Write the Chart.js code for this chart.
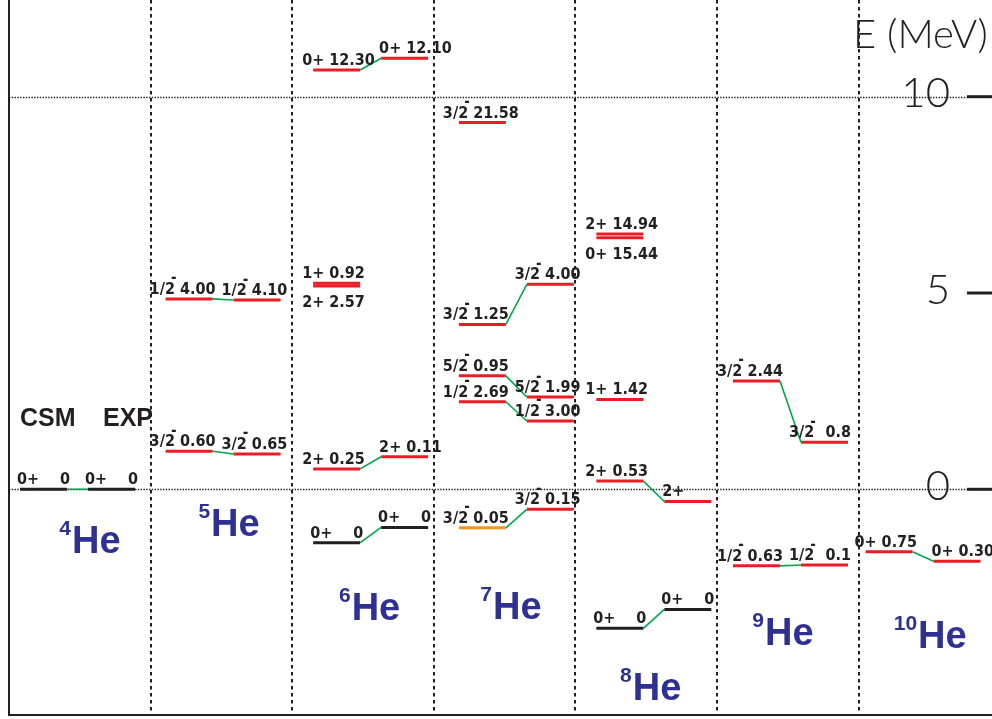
<!DOCTYPE html>
<html>
<head>
<meta charset="utf-8">
<script src="https://cdn.jsdelivr.net/npm/chart.js@4.4.0/dist/chart.umd.min.js"></script>
<style>
html,body{margin:0;padding:0;background:#fff;}
#wrap{width:992px;height:719px;position:relative;}
</style>
</head>
<body>
<div id="wrap"><canvas id="c"></canvas></div>
<script>
// ---------------- DATA ----------------
const nuclideMass = ['4', '5', '6', '7', '8', '9', '10'];
const models = ['CSM', 'EXP'];
// one entry per level
const levelNuclide = [0, 0, 1, 1, 1, 1, 2, 2, 2, 2, 2, 2, 2, 2, 3, 3, 3, 3, 3, 3, 3, 3, 3, 4, 4, 4, 4, 4, 4, 4, 5, 5, 5, 5, 6, 6];
const levelModel   = [0, 1, 0, 1, 0, 1, 0, 1, 0, 1, 0, 0, 0, 1, 0, 1, 0, 1, 0, 1, 0, 1, 0, 0, 1, 0, 1, 0, 0, 0, 0, 1, 0, 1, 0, 1];
const levelEnergy  = [0, 0, 0.97, 0.90, 4.85, 4.82, -1.36, -0.97, 0.52, 0.83, 5.25, 5.18, 10.68, 10.98,
                      -0.98, -0.51, 2.23, 1.74, 2.89, 2.35, 4.20, 5.22, 9.34,
                      -3.54, -3.06, 0.21, -0.31, 2.29, 6.50, 6.41,
                      -1.95, -1.93, 2.76, 1.20, -1.59, -1.83];
const levelSpin    = ['0+', '0+', '3/2-', '3/2-', '1/2-', '1/2-', '0+', '0+', '2+', '2+', '1+', '2+', '0+', '0+',
                      '3/2-', '3/2-', '1/2-', '1/2-', '5/2-', '5/2-', '3/2-', '3/2-', '3/2-',
                      '0+', '0+', '2+', '2+', '1+', '2+', '0+',
                      '1/2-', '1/2-', '3/2-', '3/2-', '0+', '0+'];
const levelWidth   = ['0', '0', '0.60', '0.65', '4.00', '4.10', '0', '0', '0.25', '0.11', '0.92', '2.57', '12.30', '12.10',
                      '0.05', '0.15', '2.69', '3.00', '0.95', '1.99', '1.25', '4.00', '21.58',
                      '0', '0', '0.53', '', '1.42', '14.94', '15.44',
                      '0.63', '0.1', '2.44', '0.8', '0.75', '0.30'];
const levelKind    = ['bound', 'bound', 'res', 'res', 'res', 'res', 'bound', 'bound', 'res', 'res', 'res', 'res', 'res', 'res',
                      'narrow', 'res', 'res', 'res', 'res', 'res', 'res', 'res', 'res',
                      'bound', 'bound', 'res', 'res', 'res', 'res', 'res',
                      'res', 'res', 'res', 'res', 'res', 'res'];
// CSM level -> EXP level correspondences
const connections = [[0, 1], [2, 3], [4, 5], [6, 7], [8, 9], [12, 13], [14, 15], [16, 17], [18, 19], [20, 21],
                     [23, 24], [25, 26], [30, 31], [32, 33], [34, 35]];
const energyTicks = [0, 5, 10];
const gridEnergies = [0, 10];

// ---------------- LAYOUT / STYLE ----------------
const COLW = 141.6;                 // px per column
const E_PX = 39.26;                 // px per MeV
const ZERO_PX = 489.3;
const X_MAX = (992 - 9) / COLW;
const E_MAX = ZERO_PX / E_PX;
const E_MIN = -(715 - ZERO_PX) / E_PX;
const columnShift = [0.078, 0.106, 0.148, 0.177, 0.148, 0.113, 0.049];
const LINE_W = 0.332, EXP_OFF = 0.48;
const labelBelow = new Set([11, 29]);
const nucLabelX = [0.445, 0.427, 0.42, 0.418, 0.405, 0.339, 0.42];
const nucLabelE = [-1.62, -1.19, -3.33, -3.31, -5.37, -3.97, -4.04];
const kindColor = {bound: '#231f20', res: '#ed1c24', narrow: '#f7941d'};
const GREEN = '#00a651', BLUE = '#2e3192', INK = '#231f20';
const LBL_FONT = 'bold 16px "DejaVu Sans Condensed", "Liberation Sans Narrow", "Liberation Sans", sans-serif';
const THIN_FONT = '"Lato", "DejaVu Sans", sans-serif';

function levelX0(i) { return levelNuclide[i] + columnShift[levelNuclide[i]] + (levelModel[i] === 1 ? EXP_OFF : 0); }
function levelX1(i) { return levelX0(i) + LINE_W; }

const datasets = [];
connections.forEach(([a, b]) => {
  datasets.push({
    data: [{x: levelX1(a), y: levelEnergy[a]}, {x: levelX0(b), y: levelEnergy[b]}],
    borderColor: GREEN, borderWidth: 1.6, pointRadius: 0, showLine: true, fill: false
  });
});
levelEnergy.forEach((e, i) => {
  datasets.push({
    data: [{x: levelX0(i), y: e}, {x: levelX1(i), y: e}],
    borderColor: kindColor[levelKind[i]], borderWidth: 3, pointRadius: 0, showLine: true, fill: false,
    borderCapStyle: 'butt'
  });
});

// draws a spin-parity label; returns its width
function drawSpin(ctx, s, x, y) {
  const neg = s.endsWith('-');
  const base = neg ? s.slice(0, -1) : s;
  ctx.textAlign = 'left';
  ctx.fillText(base, x, y);
  const w = ctx.measureText(base).width;
  if (neg) {
    ctx.save();
    ctx.font = 'bold 15px "DejaVu Sans Condensed", "Liberation Sans", sans-serif';
    ctx.fillText('-', x + w - 4, y - 11.5);
    ctx.restore();
  }
  return w;
}

const levelPlugin = {
  id: 'levelScheme',
  beforeDatasetsDraw(chart) {
    const {ctx, chartArea: a, scales: {x, y}} = chart;
    ctx.save();
    ctx.strokeStyle = INK;
    ctx.lineWidth = 2;
    ctx.setLineDash([3.5, 3.5]);
    for (let i = 1; i < nuclideMass.length; i++) {
      const px = Math.round(x.getPixelForValue(i));
      ctx.beginPath(); ctx.moveTo(px, 0); ctx.lineTo(px, a.bottom); ctx.stroke();
    }
    ctx.lineWidth = 1.4;
    ctx.setLineDash([1.4, 1.4]);
    gridEnergies.forEach(e => {
      const py = Math.round(y.getPixelForValue(e)) + 0.5;
      ctx.beginPath(); ctx.moveTo(a.left, py); ctx.lineTo(967, py); ctx.stroke();
    });
    ctx.restore();
  },
  afterDatasetsDraw(chart) {
    const {ctx, chartArea: a, scales: {x, y}} = chart;
    ctx.save();
    // frame
    ctx.strokeStyle = INK; ctx.lineWidth = 2; ctx.setLineDash([]);
    ctx.beginPath(); ctx.moveTo(a.left, 0); ctx.lineTo(a.left, a.bottom); ctx.lineTo(992, a.bottom); ctx.stroke();

    // level labels
    ctx.fillStyle = INK;
    ctx.font = LBL_FONT;
    ctx.textBaseline = 'alphabetic';
    levelEnergy.forEach((e, i) => {
      const x0 = x.getPixelForValue(levelX0(i));
      const x1 = x.getPixelForValue(levelX1(i));
      const py = y.getPixelForValue(e);
      const by = labelBelow.has(i) ? py + 21 : py - 5;
      const s = levelSpin[i];
      let sx;
      if (s.includes('/')) sx = levelModel[i] === 0 ? x0 - 16 : x0 - 12;
      else if (levelKind[i] === 'bound') sx = x0 - 3;
      else sx = levelModel[i] === 0 ? x0 - 11 : x0 - 2;
      const sw = drawSpin(ctx, s, sx, by);
      if (levelWidth[i] !== '') {
        ctx.textAlign = 'left';
        const vw = ctx.measureText(levelWidth[i]).width;
        const vx = Math.max(x1 + 3 - vw, sx + sw + 5);
        ctx.fillText(levelWidth[i], vx, by);
      }
    });

    // model headers
    ctx.font = 'bold 25px "Liberation Sans", Arial, sans-serif';
    ctx.textAlign = 'left';
    const y0 = y.getPixelForValue(0);
    ctx.fillText(models[0], x.getPixelForValue(levelX0(0)), y0 - 63);
    ctx.fillText(models[1], x.getPixelForValue(levelX0(1)) + 15, y0 - 63);

    // nucleus labels
    ctx.fillStyle = BLUE;
    nuclideMass.forEach((m, i) => {
      const lx = x.getPixelForValue(i + nucLabelX[i]);
      const ly = y.getPixelForValue(nucLabelE[i]);
      ctx.font = 'bold 38px "Liberation Sans", Arial, sans-serif';
      ctx.textAlign = 'left';
      ctx.fillText('He', lx, ly);
      ctx.font = 'bold 21px "Liberation Sans", Arial, sans-serif';
      ctx.textAlign = 'right';
      ctx.fillText(m, lx - 1, ly - 18);
    });

    // energy axis
    ctx.fillStyle = INK;
    ctx.strokeStyle = INK;
    ctx.lineWidth = 3;
    ctx.font = '300 42px ' + THIN_FONT;
    ctx.textAlign = 'right';
    ctx.textBaseline = 'middle';
    energyTicks.forEach(t => {
      const py = y.getPixelForValue(t);
      ctx.beginPath(); ctx.moveTo(967, py); ctx.lineTo(992, py); ctx.stroke();
      ctx.fillText(String(t), 950, py - 3);
    });
    ctx.font = '300 40px ' + THIN_FONT;
    ctx.textAlign = 'left';
    ctx.textBaseline = 'alphabetic';
    ctx.fillText('E (MeV)', 853, 48);
    ctx.restore();
  }
};

new Chart(document.getElementById('c'), {
  type: 'scatter',
  data: {datasets},
  options: {
    responsive: true,
    maintainAspectRatio: false,
    animation: false,
    layout: {padding: {left: 9, right: 0, top: 0, bottom: 4}},
    scales: {
      x: {type: 'linear', min: 0, max: X_MAX, display: false},
      y: {type: 'linear', min: E_MIN, max: E_MAX, display: false}
    },
    plugins: {legend: {display: false}, tooltip: {enabled: false}},
    elements: {line: {tension: 0}}
  },
  plugins: [levelPlugin]
});
</script>
</body>
</html>
